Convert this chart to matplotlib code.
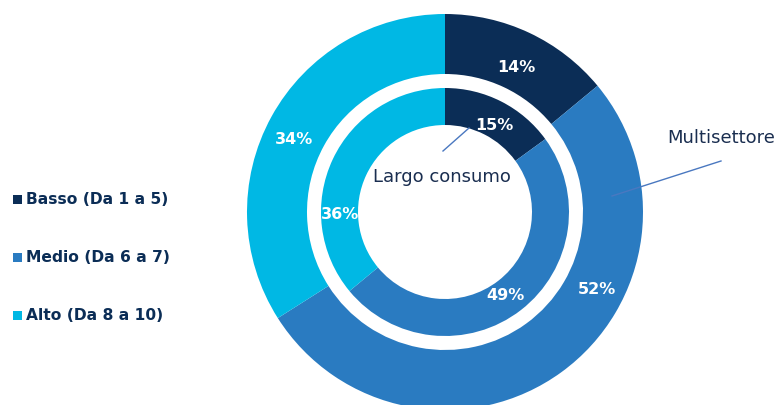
import matplotlib.pyplot as plt

# Distribuzione dei punteggi per segmento
categories = ["Basso (Da 1 a 5)", "Medio (Da 6 a 7)", "Alto (Da 8 a 10)"]
multisettore = [14, 52, 34]
largo_consumo = [15, 49, 36]
colors = ["#0b2d56", "#2a7bc1", "#00b8e4"]

W, H = 776, 406
fig = plt.figure(figsize=(W / 100, H / 100), dpi=100)
ax = fig.add_axes([0, 0, 1, 1])

cx, cy = 445, H - 213

# anello esterno: Multisettore
ax.pie(multisettore, colors=colors, startangle=90, counterclock=False,
       radius=198, center=(cx, cy),
       wedgeprops=dict(width=60, linewidth=0), frame=True)
# anello interno: Largo consumo
ax.pie(largo_consumo, colors=colors, startangle=90, counterclock=False,
       radius=124, center=(cx, cy),
       wedgeprops=dict(width=37, linewidth=0), frame=True)
ax.set_xlim(0, W)
ax.set_ylim(0, H)
ax.set_aspect("equal")
ax.axis("off")

lab = dict(color="white", fontsize=11.5, fontweight="bold", ha="center", va="center")
outer_pos = [(516, 67), (597, 290), (294, 140)]
inner_pos = [(494, 125), (505, 296), (340, 215)]
for v, (x, y) in zip(multisettore, outer_pos):
    ax.text(x, H - y, f"{v}%", **lab)
for v, (x, y) in zip(largo_consumo, inner_pos):
    ax.text(x, H - y, f"{v}%", **lab)

# nomi delle serie con linee di richiamo
line_col = "#4a78c0"
ax.text(442, H - 177, "Largo consumo", fontsize=13, color="#1a2e50",
        ha="center", va="center")
ax.plot([443, 469], [H - 152, H - 129], color=line_col, lw=1)
ax.text(775, H - 138, "Multisettore", fontsize=13, color="#1a2e50",
        ha="right", va="center")
ax.plot([612, 721], [H - 197, H - 162], color=line_col, lw=1)

# legenda
for i, (name, c) in enumerate(zip(categories, colors)):
    y = H - (200 + 58 * i)
    ax.add_patch(plt.Rectangle((13, y - 4.5), 9, 9, color=c, lw=0))
    ax.text(26, y, name, fontsize=11.2, fontweight="bold", color="#0b2d56",
            ha="left", va="center")

fig.savefig("out.png", dpi=100)
